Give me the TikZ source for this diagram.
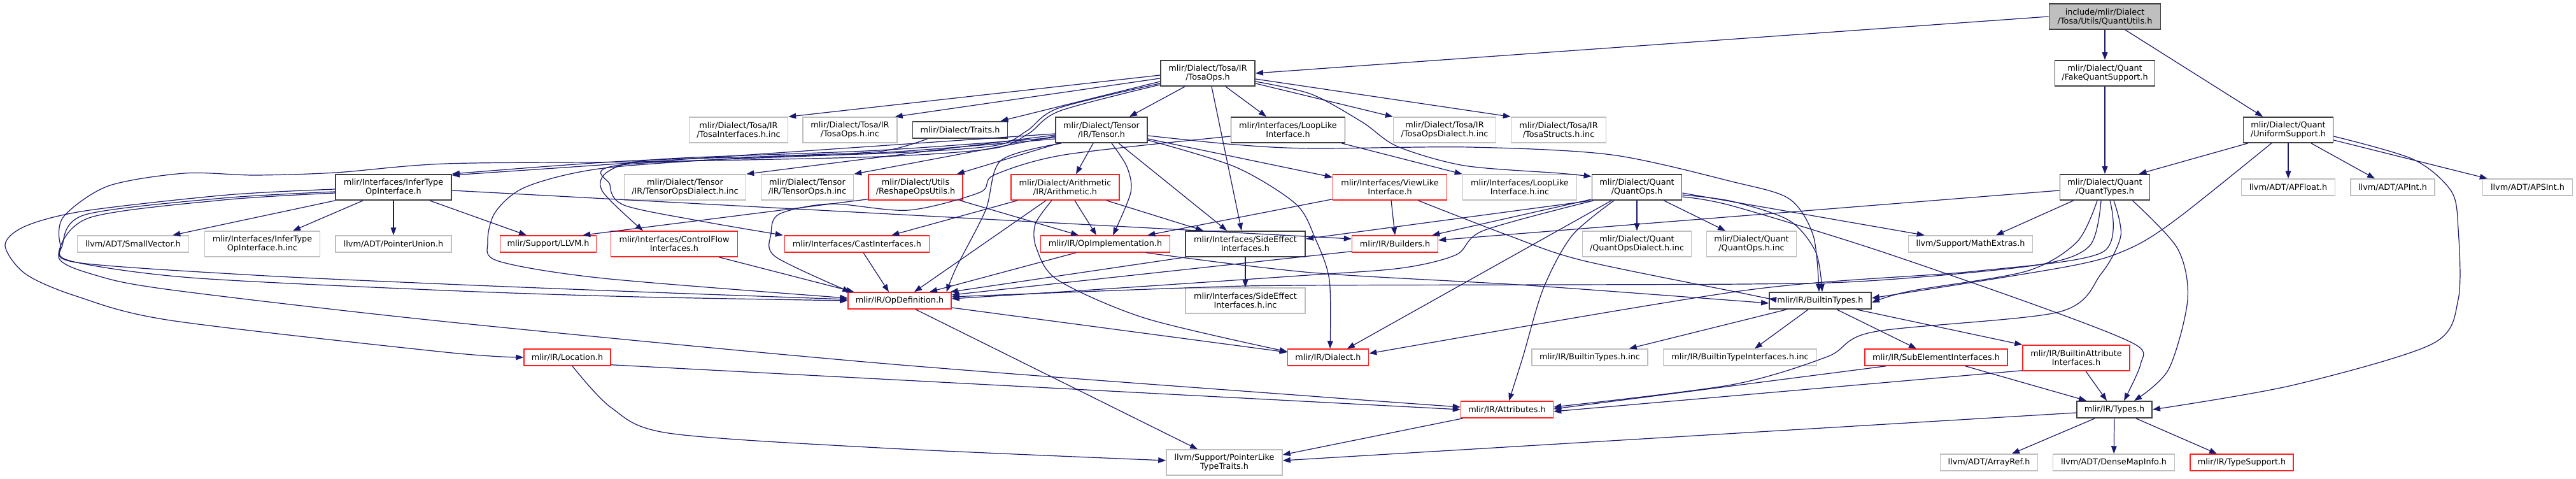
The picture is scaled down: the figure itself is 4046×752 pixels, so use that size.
\documentclass[tikz,border=0pt]{standalone}
\usepackage{fontspec}
\setmainfont{DejaVu Sans}
\usepackage{tikz}
\usetikzlibrary{arrows.meta,calc}
\definecolor{edgeblue}{HTML}{191970}
\definecolor{boxgray}{HTML}{BFBFBF}
\definecolor{boxdark}{HTML}{404040}
\definecolor{boxred}{HTML}{FF2020}
\tikzset{
  base box/.style={rectangle, inner sep=0pt, align=center, text=black,
    font=\fontsize{9.6pt}{10.5pt}\selectfont},
  file box/.style={base box, draw=boxdark, line width=1.4pt},
  root box/.style={base box, draw=boxdark, fill=boxgray, line width=1.4pt},
  ext box/.style={base box, draw=boxgray, line width=1.1pt},
  cut box/.style={base box, draw=boxred, line width=1.1pt},
  one line/.style={minimum height=19.5pt},
  two lines/.style={minimum height=30pt},
  wd/.style={minimum width=#1*0.75pt},
  dep/.style={draw=edgeblue, line width=0.9pt, -{Triangle[length=9pt,width=6.5pt]}},
}
\begin{document}
\begin{tikzpicture}[x=0.75pt, y=-0.75pt]
    \useasboundingbox (0,0) rectangle (4046,752);
    \node[root box, two lines, wd=175] (root) at (3306,26) {include/mlir/Dialect\\/Tosa/Utils/QuantUtils.h};
    \node[file box, two lines, wd=148] (tosaops) at (1897,115) {mlir/Dialect/Tosa/IR\\/TosaOps.h};
    \node[file box, two lines, wd=157] (fakequant) at (3306,115) {mlir/Dialect/Quant\\/FakeQuantSupport.h};
    \node[ext box, two lines, wd=155] (tosaifinc) at (1160,204) {mlir/Dialect/Tosa/IR\\/TosaInterfaces.h.inc};
    \node[ext box, two lines, wd=148] (tosaopsinc) at (1335,204) {mlir/Dialect/Tosa/IR\\/TosaOps.h.inc};
    \node[file box, one line, wd=149] (traits) at (1508,204) {mlir/Dialect/Traits.h};
    \node[file box, two lines, wd=144] (tensor) at (1730,204) {mlir/Dialect/Tensor\\/IR/Tensor.h};
    \node[file box, two lines, wd=179] (looplike) at (2023,204) {mlir/Interfaces/LoopLike\\Interface.h};
    \node[ext box, two lines, wd=161] (tosadialinc) at (2269,204) {mlir/Dialect/Tosa/IR\\/TosaOpsDialect.h.inc};
    \node[ext box, two lines, wd=149] (tosastructinc) at (2448,204) {mlir/Dialect/Tosa/IR\\/TosaStructs.h.inc};
    \node[file box, two lines, wd=141] (uniform) at (3594,204) {mlir/Dialect/Quant\\/UniformSupport.h};
    \node[file box, two lines, wd=182] (infertype) at (618,294) {mlir/Interfaces/InferType\\OpInterface.h};
    \node[ext box, two lines, wd=191] (tensordialinc) at (1076,294) {mlir/Dialect/Tensor\\/IR/TensorOpsDialect.h.inc};
    \node[ext box, two lines, wd=145] (tensoropsinc) at (1268,294) {mlir/Dialect/Tensor\\/IR/TensorOps.h.inc};
    \node[cut box, two lines, wd=148] (reshape) at (1438,294) {mlir/Dialect/Utils\\/ReshapeOpsUtils.h};
    \node[cut box, two lines, wd=170] (arith) at (1673,294) {mlir/Dialect/Arithmetic\\/IR/Arithmetic.h};
    \node[cut box, two lines, wd=179] (viewlike) at (2183,294) {mlir/Interfaces/ViewLike\\Interface.h};
    \node[ext box, two lines, wd=179] (looplikeinc) at (2387,294) {mlir/Interfaces/LoopLike\\Interface.h.inc};
    \node[file box, two lines, wd=141] (quantops) at (2571,294) {mlir/Dialect/Quant\\/QuantOps.h};
    \node[file box, two lines, wd=141] (quanttypes) at (3306,294) {mlir/Dialect/Quant\\/QuantTypes.h};
    \node[ext box, one line, wd=147] (apfloat) at (3594,294) {llvm/ADT/APFloat.h};
    \node[ext box, one line, wd=132] (apint) at (3758,294) {llvm/ADT/APInt.h};
    \node[ext box, one line, wd=141] (apsint) at (3970,294) {llvm/ADT/APSInt.h};
    \node[ext box, one line, wd=175] (smallvec) at (209,383) {llvm/ADT/SmallVector.h};
    \node[ext box, two lines, wd=181] (infertypeinc) at (412,383) {mlir/Interfaces/InferType\\OpInterface.h.inc};
    \node[ext box, one line, wd=182] (ptrunion) at (618,383) {llvm/ADT/PointerUnion.h};
    \node[cut box, one line, wd=151] (llvmh) at (861,383) {mlir/Support/LLVM.h};
    \node[cut box, two lines, wd=199] (controlflow) at (1059,383) {mlir/Interfaces/ControlFlow\\Interfaces.h};
    \node[cut box, one line, wd=227] (cast) at (1346,383) {mlir/Interfaces/CastInterfaces.h};
    \node[cut box, one line, wd=203] (opimpl) at (1736,383) {mlir/IR/OpImplementation.h};
    \node[file box, two lines, wd=188] (sideeffect) at (1956,383) {mlir/Interfaces/SideEffect\\Interfaces.h};
    \node[cut box, one line, wd=135] (builders) at (2191,383) {mlir/IR/Builders.h};
    \node[ext box, two lines, wd=171] (quantdialinc) at (2571,383) {mlir/Dialect/Quant\\/QuantOpsDialect.h.inc};
    \node[ext box, two lines, wd=141] (quantopsinc) at (2751,383) {mlir/Dialect/Quant\\/QuantOps.h.inc};
    \node[ext box, one line, wd=195] (mathextras) at (3095,383) {llvm/Support/MathExtras.h};
    \node[cut box, one line, wd=162] (opdef) at (1413,472) {mlir/IR/OpDefinition.h};
    \node[ext box, two lines, wd=188] (sideeffectinc) at (1956,472) {mlir/Interfaces/SideEffect\\Interfaces.h.inc};
    \node[file box, one line, wd=160] (builtintypes) at (2859,472) {mlir/IR/BuiltinTypes.h};
    \node[cut box, one line, wd=136] (location) at (891,561) {mlir/IR/Location.h};
    \node[cut box, one line, wd=127] (dialect) at (2086,561) {mlir/IR/Dialect.h};
    \node[ext box, one line, wd=182] (builtintypesinc) at (2497,561) {mlir/IR/BuiltinTypes.h.inc};
    \node[ext box, one line, wd=241] (builtintypeifinc) at (2733,561) {mlir/IR/BuiltinTypeInterfaces.h.inc};
    \node[cut box, one line, wd=224] (subelement) at (3041,561) {mlir/IR/SubElementInterfaces.h};
    \node[cut box, two lines, wd=168] (builtinattrif) at (3261,562) {mlir/IR/BuiltinAttribute\\Interfaces.h};
    \node[cut box, one line, wd=145] (attributes) at (2367,643) {mlir/IR/Attributes.h};
    \node[file box, one line, wd=118] (types) at (3321,643) {mlir/IR/Types.h};
    \node[ext box, two lines, wd=182] (ptrlike) at (1923,726) {llvm/Support/PointerLike\\TypeTraits.h};
    \node[ext box, one line, wd=153] (arrayref) at (3124,726) {llvm/ADT/ArrayRef.h};
    \node[ext box, one line, wd=191] (densemap) at (3320,726) {llvm/ADT/DenseMapInfo.h};
    \node[cut box, one line, wd=162] (typesupport) at (3521,726) {mlir/IR/TypeSupport.h};

    \draw[dep] (root.west) -- (tosaops.east);
    \draw[dep] (root) -- (fakequant);
    \draw[dep] ($(root.south)+(32,0)$) -- ($(uniform.north)+(-40,0)$);
    \draw[dep] (fakequant) -- (quanttypes);
    \draw[dep] ($(uniform.south west)+(8,0)$) -- ($(quanttypes.north east)+(-18,0)$);
    \draw[dep] (uniform) -- (apfloat);
    \draw[dep] ($(uniform.south)+(36,0)$) -- ($(apint.north)+(-28,0)$);
    \draw[dep] ($(uniform.east)+(0,16)$) -- ($(apsint.north west)+(8,0)$);
    \draw[dep] plot[smooth] coordinates {($(uniform.east)+(0,10)$) (3790,250) (3850,300) (3861,360) (3861,470) (3820,540) (3600,605) (types.east)};
    \draw[dep] plot[smooth] coordinates {($(uniform.south west)+(45,0)$) (3420,343) (3345,390) (3250,418) ($(builtintypes.east)+(0,-4)$)};

    \draw[dep] ($(tosaops.west)+(0,3)$) -- (tosaifinc.north east);
    \draw[dep] ($(tosaops.west)+(0,8)$) -- ($(tosaopsinc.north east)+(-4,0)$);
    \draw[dep] ($(tosaops.west)+(0,13)$) -- ($(traits.north east)+(-12,0)$);
    \draw[dep] ($(tosaops.south)+(-36,0)$) -- ($(tensor.north)+(44,0)$);
    \draw[dep] ($(tosaops.south)+(28,0)$) -- ($(looplike.north)+(-34,0)$);
    \draw[dep] ($(tosaops.south)+(6,0)$) -- ($(sideeffect.north)+(-6,0)$);
    \draw[dep] ($(tosaops.east)+(0,9)$) -- (tosastructinc.north west);
    \draw[dep] ($(tosaops.east)+(0,16)$) -- (tosadialinc.north west);
    \draw[dep] plot[smooth] coordinates {($(tosaops.east)+(0,13)$) (2060,148) (2140,192) (2195,230) (2300,260) (2450,272) ($(quantops.north west)+(0,4)$)};
    \draw[dep] plot[smooth] coordinates {($(tosaops.west)+(0,16)$) (1662,170) (1612,206) (1560,229) (1380,241) (1000,252) (infertype.north east)};
    \draw[dep] plot[smooth] coordinates {($(tosaops.west)+(0,18)$) (1665,174) (1615,210) (1560,233) (1380,246) (1000,254) (700,257) (527,271) (400,275) (290,272) (170,292) (100,340) (95,385) (120,412) (400,432) (700,446) (1000,458) ($(opdef.west)+(0,-2)$)};
    \draw[dep] plot[smooth] coordinates {($(traits.south west)+(24,0)$) (1380,238) (1200,246) (948,264) (827,293) (778,333) (766,380) (783,410) (948,437) ($(opdef.west)+(0,-4)$)};

    \draw[dep] ($(tensor.west)+(0,8)$) -- (tensordialinc.north east);
    \draw[dep] ($(tensor.west)+(0,10)$) -- (tensoropsinc.north east);
    \draw[dep] ($(tensor.west)+(0,6)$) -- ($(infertype.north east)+(0,2)$);
    \draw[dep] plot[smooth] coordinates {($(tensor.west)+(0,12)$) (1380,236) (1037,250) (957,268) (946,300) ($(controlflow.north)+(-49,0)$)};
    \draw[dep] plot[smooth] coordinates {($(tensor.west)+(0,14)$) (1380,240) (975,259) (958,290) (980,322) (1100,347) ($(cast.north west)+(-2,0)$)};
    \draw[dep] plot[smooth] coordinates {($(tensor.south west)+(10,0)$) (1572,252) (1548,330) (1502,420) ($(opdef.north east)+(-8,0)$)};
    \draw[dep] ($(tensor.south west)+(6,0)$) -- ($(reshape.north east)+(-10,0)$);
    \draw[dep] ($(tensor.south)+(-13,0)$) -- ($(arith.north)+(17,0)$);
    \draw[dep] plot[smooth] coordinates {($(tensor.south)+(16,0)$) (1770,262) (1776,302) ($(opimpl.north)+(12,0)$)};
    \draw[dep] ($(tensor.south)+(27,0)$) -- ($(sideeffect.north)+(-29,0)$);
    \draw[dep] ($(tensor.east)+(0,14)$) -- ($(viewlike.north west)+(0,5)$);
    \draw[dep] plot[smooth] coordinates {($(tensor.east)+(0,16)$) (1940,262) (2035,320) (2066,375) (2088,440) ($(dialect.north)+(3,0)$)};
    \draw[dep] plot[smooth] coordinates {($(tensor.east)+(0,9)$) (1940,227) (2060,233) (2308,231) (2531,243) (2720,285) (2810,312) (2848,370) ($(builtintypes.north)+(-2,0)$)};

    \draw[dep] ($(looplike.south east)+(-6,0)$) -- (looplikeinc.north west);
    \draw[dep] plot[smooth] coordinates {($(looplike.west)+(0,10)$) (1672,243) (1561,275) (1539,302) (1427,330) (1305,320) (1224,336) (1211,367) (1218,403) ($(opdef.north west)+(4,0)$)};

    \draw[dep] (infertype.south west) -- ($(smallvec.north east)+(-26,0)$);
    \draw[dep] ($(infertype.south west)+(44,0)$) -- ($(infertypeinc.north)+(48,0)$);
    \draw[dep] (infertype) -- (ptrunion);
    \draw[dep] ($(infertype.south east)+(-35,0)$) -- ($(llvmh.north)+(-34,0)$);
    \draw[dep] ($(infertype.east)+(0,5)$) -- ($(builders.west)+(0,-8)$);
    \draw[dep] plot[smooth] coordinates {($(infertype.west)+(0,7)$) (350,311) (134,337) (98,385) (112,410) (300,436) (700,456) (1000,466) (opdef.west)};
    \draw[dep] plot[smooth] coordinates {($(infertype.west)+(0,9)$) (350,314) (140,342) (92,403) (150,432) (268,455) (700,505) (1380,570) (2060,622) ($(attributes.west)+(0,-4)$)};
    \draw[dep] plot[smooth] coordinates {($(infertype.west)+(0,3)$) (357,306) (134,331) (40,355) (8,385) (40,430) (120,465) (268,503) (700,553) (location.west)};

    \draw[dep] ($(reshape.south west)+(0,-2)$) -- ($(llvmh.north east)+(-22,0)$);
    \draw[dep] ($(reshape.south east)+(-5,0)$) -- ($(opimpl.north)+(-42,0)$);
    \draw[dep] ($(arith.south west)+(11,0)$) -- ($(cast.north east)+(-60,0)$);
    \draw[dep] ($(arith.south)+(-30,0)$) -- ($(opdef.north)+(23,0)$);
    \draw[dep] plot[smooth] coordinates {($(arith.south)+(-21,0)$) (1626,352) (1628,390) (1662,440) (1800,500) ($(dialect.west)+(0,-9)$)};
    \draw[dep] ($(arith.south)+(15,0)$) -- ($(opimpl.north)+(-14,0)$);
    \draw[dep] ($(arith.south east)+(-21,0)$) -- ($(sideeffect.north)+(-66,0)$);

    \draw[dep] ($(viewlike.south west)+(0,-2)$) -- ($(opimpl.north east)+(-36,0)$);
    \draw[dep] ($(viewlike.south)+(2,0)$) -- (builders.north);
    \draw[dep] plot[smooth] coordinates {($(viewlike.south east)+(-46,0)$) (2370,370) (2486,409) (2740,461) ($(builtintypes.west)+(0,-3)$)};

    \draw[dep] ($(quantops.south west)+(0,-2)$) -- ($(builders.north east)+(-10,0)$);
    \draw[dep] (quantops.south west) -- ($(sideeffect.east)+(0,-8)$);
    \draw[dep] plot[smooth] coordinates {($(quantops.south west)+(3,0)$) (2330,362) (2287,400) (2200,421) (2040,433) (1700,456) ($(opdef.east)+(0,-3)$)};
    \draw[dep] ($(quantops.south)+(-40,0)$) -- ($(dialect.north)+(30,0)$);
    \draw[dep] plot[smooth] coordinates {($(quantops.south)+(-36,0)$) (2469,370) (2424,453) (2392,560) ($(attributes.north)+(3,0)$)};
    \draw[dep] (quantops) -- (quantdialinc);
    \draw[dep] ($(quantops.south east)+(-29,0)$) -- ($(quantopsinc.north)+(-41,0)$);
    \draw[dep] ($(quantops.east)+(0,9)$) -- ($(mathextras.north west)+(26,0)$);
    \draw[dep] plot[smooth] coordinates {($(quantops.east)+(0,12)$) (2720,316) (2810,346) (2852,396) ($(builtintypes.north)+(3,0)$)};
    \draw[dep] plot[smooth] coordinates {($(quantops.east)+(0,15)$) (2720,323) (2943,391) (3211,484) (3354,541) (3362,572) ($(types.north)+(15,0)$)};

    \draw[dep] ($(quanttypes.west)+(0,5)$) -- ($(builders.east)+(0,-6)$);
    \draw[dep] ($(quanttypes.south west)+(22,0)$) -- ($(mathextras.north)+(40,0)$);
    \draw[dep] plot[smooth] coordinates {($(quanttypes.south)+(-12,0)$) (3262,380) (3182,426) (3000,457) ($(builtintypes.east)+(0,3)$)};
    \draw[dep] plot[smooth] coordinates {($(quanttypes.south)+(-6,0)$) (3282,386) (3200,416) (2950,440) (2740,446) (2050,448) (1862,452) ($(opdef.east)+(0,-6)$)};
    \draw[dep] plot[smooth] coordinates {($(quanttypes.south)+(8,0)$) (3302,396) (3100,426) (2740,456) ($(dialect.east)+(0,-6)$)};
    \draw[dep] plot[smooth] coordinates {($(quanttypes.south)+(14,0)$) (3331,370) (3300,430) (3233,490) (2943,521) (2870,560) (2720,604) ($(attributes.east)+(0,-4)$)};
    \draw[dep] plot[smooth] coordinates {($(quanttypes.south east)+(-28,0)$) (3420,390) (3436,470) (3406,580) ($(types.north)+(31,0)$)};

    \draw[dep] ($(builtintypes.south west)+(28,0)$) -- ($(builtintypesinc.north east)+(-30,0)$);
    \draw[dep] ($(builtintypes.south)+(-19,0)$) -- ($(builtintypeifinc.north)+(23,0)$);
    \draw[dep] ($(builtintypes.south)+(26,0)$) -- ($(subelement.north)+(-31,0)$);
    \draw[dep] ($(builtintypes.south east)+(-24,0)$) -- (builtinattrif.north west);
    \draw[dep] ($(subelement.south west)+(34,0)$) -- ($(attributes.east)+(0,-1)$);
    \draw[dep] ($(subelement.south east)+(-67,0)$) -- ($(types.north west)+(16,0)$);
    \draw[dep] ($(builtinattrif.south west)+(0,-1)$) -- ($(attributes.east)+(0,3)$);
    \draw[dep] ($(builtinattrif.south)+(15,0)$) -- ($(types.north)+(-12,0)$);

    \draw[dep] ($(types.south west)+(29,0)$) -- ($(arrayref.north)+(36,0)$);
    \draw[dep] (types) -- (densemap);
    \draw[dep] ($(types.south east)+(-26,0)$) -- ($(typesupport.north)+(-39,0)$);
    \draw[dep] ($(types.west)+(0,5)$) -- ($(ptrlike.east)+(0,-3)$);
    \draw[dep] ($(attributes.south west)+(4,0)$) -- ($(ptrlike.east)+(0,-12)$);
    \draw[dep] ($(location.south east)+(0,-2)$) -- (attributes.west);
    \draw[dep] plot[smooth] coordinates {($(location.south)+(8,0)$) (960,640) (1050,680) (1380,703) ($(ptrlike.west)+(0,-3)$)};
    \draw[dep] ($(opdef.east)+(0,11)$) -- ($(dialect.west)+(0,-8)$);
    \draw[dep] ($(opdef.south)+(25,0)$) -- ($(ptrlike.north)+(-42,0)$);

    \draw[dep] (sideeffect.south west) -- ($(opdef.north east)+(-2,0)$);
    \draw[dep] (sideeffect) -- (sideeffectinc);
    \draw[dep] ($(cast.south)+(10,0)$) -- ($(opdef.north)+(-17,0)$);
    \draw[dep] ($(controlflow.south east)+(-30,0)$) -- ($(opdef.north west)+(10,0)$);
    \draw[dep] ($(opimpl.south)+(-46,0)$) -- ($(opdef.north)+(47,0)$);
    \draw[dep] plot[smooth] coordinates {($(opimpl.south east)+(-38,0)$) (2060,428) (2400,448) ($(builtintypes.west)+(0,4)$)};
    \draw[dep] ($(builders.south west)+(0,-2)$) -- ($(opdef.east)+(0,-9)$);
\end{tikzpicture}
\end{document}
